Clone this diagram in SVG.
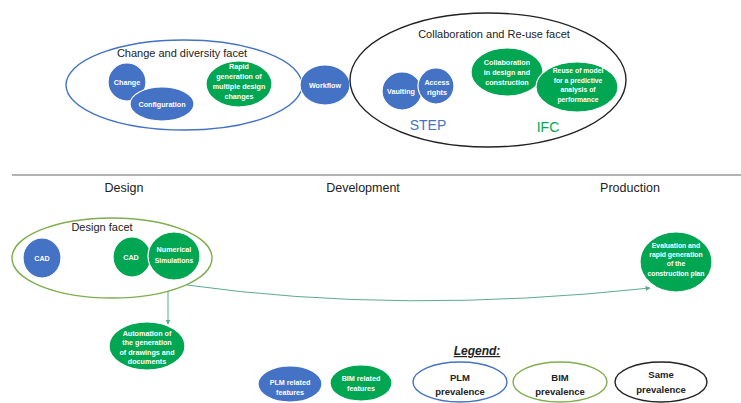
<svg xmlns="http://www.w3.org/2000/svg" width="741" height="403" viewBox="0 0 741 403">
<style>
.t{font-family:"Liberation Sans",Arial,sans-serif;fill:#222;}
.w{font-family:"Liberation Sans",Arial,sans-serif;fill:#fff;font-weight:bold;font-size:7.2px;text-anchor:middle;}
.s{font-size:6.8px;}
.blue{fill:#4472C4;stroke:#fff;stroke-width:1.2;}
.green{fill:#00A651;stroke:#fff;stroke-width:1.2;}
.plm{fill:none;stroke:#4472C4;stroke-width:1.4;}
.bim{fill:none;stroke:#7FAE4F;stroke-width:1.4;}
.same{fill:none;stroke:#222;stroke-width:1.4;}
.conn{fill:none;stroke:#5AAB8E;stroke-width:1;}
</style>
<defs>
<marker id="arr" viewBox="0 0 10 10" refX="9" refY="5" markerWidth="5" markerHeight="5" orient="auto">
<path d="M0,0 L10,5 L0,10 z" fill="#5AAB8E"/>
</marker>
</defs>
<rect width="741" height="403" fill="#fff"/>

<g id="change-diversity-facet">
<ellipse class="plm" cx="184" cy="85" rx="118" ry="45"/>
<text class="t" x="182" y="57" font-size="11" text-anchor="middle">Change and diversity facet</text>
</g>
<g id="change">
<ellipse class="blue" cx="127" cy="82" rx="19" ry="19"/>
<text class="w" x="127" y="85">Change</text>
</g>
<g id="configuration">
<ellipse class="blue" cx="162" cy="104" rx="32" ry="17"/>
<text class="w" x="162" y="107">Configuration</text>
</g>
<g id="rapid-generation">
<ellipse class="green" cx="239" cy="84" rx="33" ry="23"/>
<text class="w" x="239" y="69">Rapid</text>
<text class="w" x="239" y="79">generation of</text>
<text class="w" x="239" y="89">multiple design</text>
<text class="w" x="239" y="99">changes</text>
</g>
<g id="workflow">
<ellipse class="blue" cx="325" cy="85" rx="25" ry="20"/>
<text class="w" x="325" y="88">Workflow</text>
</g>

<g id="collaboration-reuse-facet">
<ellipse class="same" cx="488" cy="80" rx="138" ry="67"/>
<text class="t" x="494" y="38" font-size="11" text-anchor="middle">Collaboration and Re-use facet</text>
<text x="428" y="130" font-family="Liberation Sans,Arial,sans-serif" font-size="14" fill="#4472C4" text-anchor="middle">STEP</text>
<text x="548" y="132" font-family="Liberation Sans,Arial,sans-serif" font-size="14" fill="#00A651" text-anchor="middle">IFC</text>
</g>
<g id="vaulting">
<ellipse class="blue" cx="402" cy="91" rx="20" ry="19"/>
<text class="w" x="401" y="94">Vaulting</text>
</g>
<g id="access-rights">
<ellipse class="blue" cx="436" cy="86" rx="18" ry="18"/>
<text class="w" x="437" y="85">Access</text>
<text class="w" x="437" y="95">rights</text>
</g>
<g id="collaboration-design">
<ellipse class="green" cx="507" cy="72" rx="36" ry="24"/>
<text class="w" x="507" y="65">Collaboration</text>
<text class="w" x="507" y="75">in design and</text>
<text class="w" x="507" y="85">construction</text>
</g>
<g id="reuse-model">
<ellipse class="green" cx="577" cy="87" rx="41" ry="25"/>
<text class="w s" x="578" y="73">Reuse of model</text>
<text class="w s" x="578" y="83">for a predictive</text>
<text class="w s" x="578" y="92">analysis of</text>
<text class="w s" x="578" y="102">performance</text>
</g>

<g id="separator">
<line x1="12" y1="175" x2="741" y2="175" stroke="#999" stroke-width="1.3"/>
<text class="t" x="124" y="192" font-size="12.5" text-anchor="middle">Design</text>
<text class="t" x="363" y="192" font-size="12.5" text-anchor="middle">Development</text>
<text class="t" x="630" y="192" font-size="12.5" text-anchor="middle">Production</text>
</g>

<g id="design-facet">
<ellipse class="bim" cx="112" cy="258" rx="100" ry="40"/>
<text class="t" x="102" y="231" font-size="11" text-anchor="middle">Design facet</text>
</g>
<g id="cad-plm">
<ellipse class="blue" cx="42" cy="258" rx="19" ry="20"/>
<text class="w" x="42" y="261">CAD</text>
</g>
<g id="cad-bim">
<ellipse class="green" cx="132" cy="257" rx="19" ry="20"/>
<text class="w" x="131" y="260">CAD</text>
</g>
<g id="numerical-simulations">
<ellipse class="green" cx="174" cy="256" rx="26" ry="24"/>
<text class="w" x="174" y="252">Numerical</text>
<text class="w s" x="174" y="263">Simulations</text>
</g>
<g id="automation">
<ellipse class="green" cx="147" cy="346" rx="38" ry="24"/>
<text class="w" x="147" y="336">Automation of</text>
<text class="w" x="147" y="345">the generation</text>
<text class="w" x="147" y="355">of drawings and</text>
<text class="w" x="147" y="364">documents</text>
</g>
<g id="evaluation">
<ellipse class="green" cx="676" cy="262" rx="36" ry="30"/>
<text class="w s" x="676" y="248">Evaluation and</text>
<text class="w s" x="676" y="257">rapid generation</text>
<text class="w s" x="676" y="266">of the</text>
<text class="w s" x="676" y="276">construction plan</text>
</g>

<g id="connectors">
<path class="conn" d="M168,291 L168,324" marker-end="url(#arr)"/>
<path class="conn" d="M187,285 Q400,315 650,288" marker-end="url(#arr)"/>
</g>

<g id="legend">
<text x="477" y="355" font-family="Liberation Sans,Arial,sans-serif" font-size="12" font-weight="bold" font-style="italic" text-decoration="underline" fill="#222" text-anchor="middle">Legend:</text>
<g id="legend-plm-features">
<ellipse class="blue" cx="290" cy="384" rx="32" ry="18"/>
<text class="w" x="290" y="385">PLM related</text>
<text class="w" x="290" y="395">features</text>
</g>
<g id="legend-bim-features">
<ellipse class="green" cx="361" cy="383" rx="31" ry="18"/>
<text class="w" x="361" y="381">BIM related</text>
<text class="w" x="361" y="391">features</text>
</g>
<g id="legend-plm-prevalence">
<ellipse class="plm" cx="460" cy="382" rx="47" ry="20"/>
<text class="t" x="460" y="381" font-size="9.5" font-weight="bold" text-anchor="middle">PLM</text>
<text class="t" x="460" y="395" font-size="9.5" font-weight="bold" text-anchor="middle">prevalence</text>
</g>
<g id="legend-bim-prevalence">
<ellipse class="bim" cx="560" cy="382" rx="47" ry="20"/>
<text class="t" x="560" y="381" font-size="9.5" font-weight="bold" text-anchor="middle">BIM</text>
<text class="t" x="560" y="395" font-size="9.5" font-weight="bold" text-anchor="middle">prevalence</text>
</g>
<g id="legend-same-prevalence">
<ellipse class="same" cx="661" cy="382" rx="46" ry="20"/>
<text class="t" x="661" y="378" font-size="9.5" font-weight="bold" text-anchor="middle">Same</text>
<text class="t" x="661" y="393" font-size="9.5" font-weight="bold" text-anchor="middle">prevalence</text>
</g>
</g>
</svg>
